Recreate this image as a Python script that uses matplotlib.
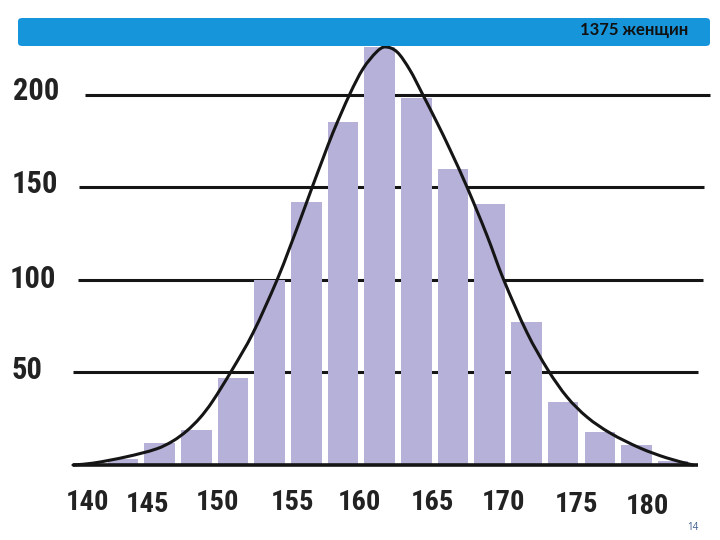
import numpy as np
import matplotlib
matplotlib.use("Agg")
import matplotlib.pyplot as plt
from matplotlib.path import Path
from matplotlib.patches import PathPatch, FancyBboxPatch
from matplotlib import font_manager

# ---------------- data ----------------
bin_starts = [140.0, 142.5, 145.0, 147.5, 150.0, 152.5, 155.0, 157.5,
              160.0, 162.5, 165.0, 167.5, 170.0, 172.5, 175.0, 177.5]
counts = [3, 12, 19, 47, 100, 142, 185, 226, 198, 160, 141, 77, 34, 18, 11, 2]

curve_x = [137.84, 139.2, 141.52, 143.57, 144.66, 145.61, 146.5, 147.32, 148.68,
           150.11, 151.75, 152.63, 153.52, 154.2, 154.88, 155.56, 156.72, 157.61,
           158.56, 159.11, 159.93, 160.81, 161.63, 162.65, 163.54, 164.7, 166.06,
           167.15, 168.79, 170.22, 171.52, 172.88, 174.45, 176.49, 178.33, 180.1]
curve_y = [0, 1.0, 4.5, 8.8, 13.0, 18.5, 25.5, 34.0, 51.3,
           71.3, 99.9, 117.7, 136.5, 151.2, 165.5, 179.5, 200.5, 214.0,
           223.3, 225.8, 223.1, 213.3, 200.9, 185.0, 170.4, 150.1, 124.0,
           101.0, 71.5, 51.3, 36.7, 25.9, 17.3, 9.2, 3.8, 0]

y_ticks = [50, 100, 150, 200]
y_tick_labels = ["50", "100", "150", "200"]
x_tick_labels = ["140", "145", "150", "155", "160", "165", "170", "175", "180"]
title_text = "1375 женщин"
page_text = "14"

# ---------------- layout ----------------
W, H, DPI = 720, 540, 100
BIN_W = 2.5
BAR_W = 2.08
XLIM = (137.5, 181.5)
YLIM = (-5, 235)
PX_PER_CM = 14.67
X_REF_CM, X_REF_PX = 141.25, 123.0
PX_PER_UNIT = 1.8515
Y_BASE_PX = 465.0

line_extents = {0: (137.84, 180.45), 50: (137.84, 180.45), 100: (138.18, 180.78),
                150: (138.25, 180.85), 200: (138.66, 181.26)}
xlab_pos = [138.83, 142.92, 147.66, 152.80, 157.40, 162.35, 167.19, 172.13, 177.00]
xlab_ypx = [503, 505, 502, 503, 503, 502, 502, 504, 507]
ylab_xpx = [12, 10, 12, 13]
ylab_ypx = [370, 279, 184, 91]

BAR_COLOR = "#b5b1d8"
LINE_COLOR = "#151515"
BANNER_COLOR = "#1795db"

names = {f.name for f in font_manager.fontManager.ttflist}
narrow = None
for cand in ["Liberation Sans Narrow", "Arial Narrow", "Roboto Condensed",
             "DejaVu Sans Condensed", "Open Sans Condensed", "Noto Sans Condensed"]:
    if cand in names:
        narrow = cand
        break
stretch = "normal"
if narrow is None:
    for f in font_manager.fontManager.ttflist:
        if f.name == "DejaVu Sans" and str(f.stretch) in ("condensed", "semi-condensed"):
            narrow = "DejaVu Sans"
            stretch = "condensed"
            break
if narrow is not None:
    num_font = [narrow, "Liberation Sans", "DejaVu Sans"]
    ysize, xsize = 22, 20.5
else:
    num_font = ["Liberation Sans", "DejaVu Sans"]
    ysize, xsize = 19, 18

def px_x(cm):
    return X_REF_PX + PX_PER_CM * (cm - X_REF_CM)

def px_y(v):
    return Y_BASE_PX - PX_PER_UNIT * v

fig = plt.figure(figsize=(W / DPI, H / DPI), dpi=DPI)
fig.patch.set_facecolor("white")

left = px_x(XLIM[0]) / W
right = px_x(XLIM[1]) / W
bottom = (H - px_y(YLIM[0])) / H
top = (H - px_y(YLIM[1])) / H
ax = fig.add_axes([left, bottom, right - left, top - bottom])
ax.set_xlim(*XLIM)
ax.set_ylim(*YLIM)
ax.axis("off")

for v in y_ticks:
    x0, x1 = line_extents[v]
    ax.plot([x0, x1], [v, v], color=LINE_COLOR, lw=2.2, zorder=1,
            solid_capstyle="butt", clip_on=False)

centers = [s + BIN_W / 2 for s in bin_starts]
ax.bar(centers, counts, width=BAR_W, color=BAR_COLOR, zorder=2, linewidth=0)

x0, x1 = line_extents[0]
ax.plot([x0, x1], [0, 0], color=LINE_COLOR, lw=2.6, zorder=3,
        solid_capstyle="butt", clip_on=False)

# smooth curve through the read points: cubic Hermite segments as Bezier path
xs = np.asarray(curve_x, float)
ys = np.asarray(curve_y, float)
n = len(xs)
m = np.empty(n)
m[0] = (ys[1] - ys[0]) / (xs[1] - xs[0])
m[-1] = (ys[-1] - ys[-2]) / (xs[-1] - xs[-2])
for i in range(1, n - 1):
    m[i] = (ys[i + 1] - ys[i - 1]) / (xs[i + 1] - xs[i - 1])
verts = [(xs[0], ys[0])]
codes = [Path.MOVETO]
for i in range(n - 1):
    dx = xs[i + 1] - xs[i]
    verts += [(xs[i] + dx / 3, ys[i] + m[i] * dx / 3),
              (xs[i + 1] - dx / 3, ys[i + 1] - m[i + 1] * dx / 3),
              (xs[i + 1], ys[i + 1])]
    codes += [Path.CURVE4] * 3
patch = PathPatch(Path(verts, codes), facecolor="none", edgecolor=LINE_COLOR,
                  lw=2.2, zorder=4, clip_on=False, capstyle="round")
ax.add_patch(patch)

for lab, xp, yp in zip(y_tick_labels, ylab_xpx, ylab_ypx):
    fig.text(xp / W, (H - yp) / H, lab, ha="left", va="center",
             fontsize=ysize, fontweight="bold", fontstretch=stretch,
             color="#222222", family=num_font)

for lab, xc, yp in zip(x_tick_labels, xlab_pos, xlab_ypx):
    fig.text(px_x(xc) / W, (H - yp) / H, lab, ha="center", va="center",
             fontsize=xsize, fontweight="bold", fontstretch=stretch,
             color="#222222", family=num_font)

banner = FancyBboxPatch((18 / W, (H - 46) / H), (710 - 18) / W, 28 / H,
                        boxstyle="round,pad=0,rounding_size=0.006",
                        transform=fig.transFigure, facecolor=BANNER_COLOR,
                        edgecolor="none", zorder=5)
fig.patches.append(banner)
fig.text(688 / W, (H - 30) / H, title_text, ha="right", va="center",
         fontsize=12, fontweight="bold", color="#111111",
         family=["Lato", "Open Sans", "DejaVu Sans"], zorder=6)

fig.text(693 / W, (H - 527) / H, page_text, ha="center", va="center",
         fontsize=7, color="#3d5f8f", family=["Open Sans", "DejaVu Sans"])

fig.savefig("out.png", dpi=DPI, facecolor="white")
